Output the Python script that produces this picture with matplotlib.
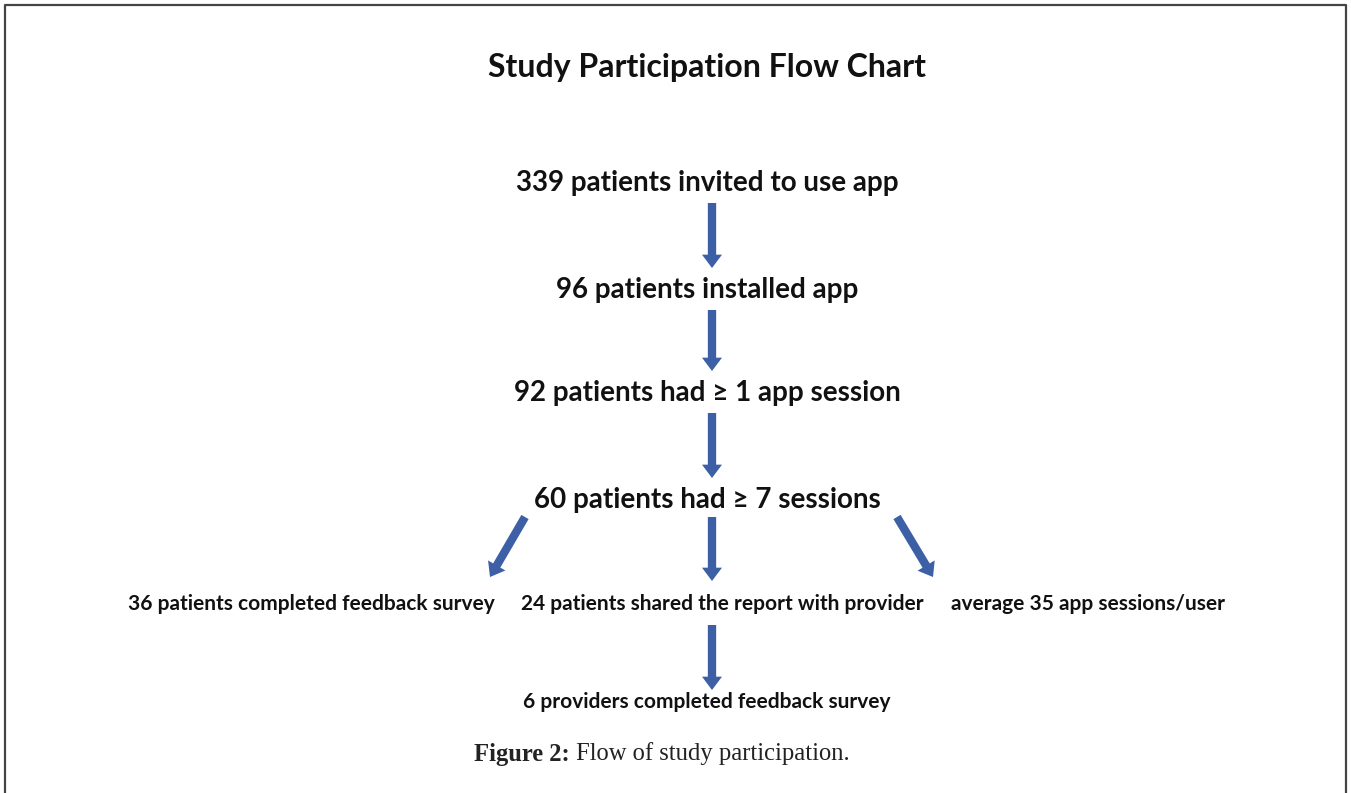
import matplotlib.pyplot as plt
from matplotlib.patches import FancyArrowPatch

# flow chart content
title = "Study Participation Flow Chart"
main_steps = [
    "339 patients invited to use app",
    "96 patients installed app",
    "92 patients had \u2265 1 app session",
    "60 patients had \u2265 7 sessions",
]
branch_steps = [
    "36 patients completed feedback survey",
    "24 patients shared the report with provider",
    "average 35 app sessions/user",
]
final_step = "6 providers completed feedback survey"
caption_bold = "Figure 2:"
caption_rest = " Flow of study participation."

# layout (pixel coordinates, y down)
W, H = 1351, 793
main_x = 707
main_y = [183, 290, 393, 500]
branch_x = [311, 722, 1088]
branch_y = 604
final_y = 702
arrow_x = 712
blue = "#3c5fa6"

fig = plt.figure(figsize=(W / 100, H / 100), dpi=100)
ax = fig.add_axes([0, 0, 1, 1])
ax.set_xlim(0, W)
ax.set_ylim(H, 0)
ax.axis("off")

font = ["Lato", "DejaVu Sans"]
serif = ["Liberation Serif", "DejaVu Serif"]

# frame (open at the bottom)
ax.plot([5, 5, 1346, 1346], [H + 5, 5, 5, H + 5], color="#444444", lw=1.6)

ax.text(main_x, 67, title, ha="center", va="center", fontsize=23,
        fontweight="bold", family=font, color="#111111")

for label, y in zip(main_steps, main_y):
    ax.text(main_x, y, label, ha="center", va="center", fontsize=20,
            fontweight="bold", family=font, color="#111111")

for label, x in zip(branch_steps, branch_x):
    ax.text(x, branch_y, label, ha="center", va="center", fontsize=15,
            fontweight="bold", family=font, color="#111111")

ax.text(main_x, final_y, final_step, ha="center", va="center", fontsize=15,
        fontweight="bold", family=font, color="#111111")


def arrow(x0, y0, x1, y1):
    a = FancyArrowPatch((x0, y0), (x1, y1),
                        arrowstyle="simple,head_width=1.8,head_length=1.2,tail_width=0.75",
                        mutation_scale=8, color=blue, lw=0, shrinkA=0, shrinkB=0)
    ax.add_patch(a)


# vertical arrows between main steps
for y0, y1 in zip(main_y[:-1], main_y[1:]):
    arrow(arrow_x, y0 + 20, arrow_x, y1 - 22)

# branch arrows
arrow(525, 517, 490, 577)
arrow(arrow_x, 517, arrow_x, 581)
arrow(897, 517, 933, 577)
arrow(arrow_x, 625, arrow_x, 690)

# caption: bold label + regular text
t1 = ax.text(474, 754, caption_bold, ha="left", va="center", fontsize=17.7,
             fontweight="bold", family=serif, color="#222222")
fig.canvas.draw()
bb = t1.get_window_extent()
x_end = ax.transData.inverted().transform((bb.x1, bb.y0))[0]
ax.text(x_end, 754, caption_rest, ha="left", va="center", fontsize=17.7,
        family=serif, color="#222222")

fig.savefig("out.png", dpi=100)
